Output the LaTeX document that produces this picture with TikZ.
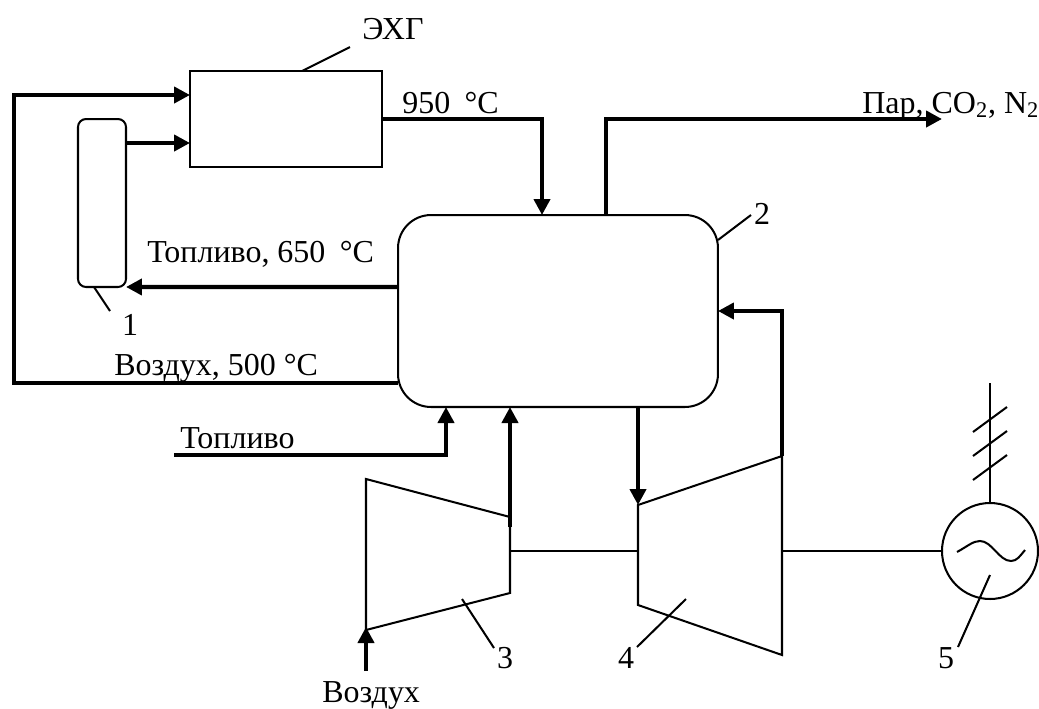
\documentclass[tikz,border=0pt]{standalone}
\usepackage{fontspec}
\setmainfont{Liberation Serif}
\usepackage{tikz}
\usetikzlibrary{arrows.meta,calc}
\tikzset{
  thinline/.style={line width=1.15pt},
  flow/.style={line width=2.4pt,-{Triangle[length=0.32cm,width=0.32cm]}},
  unitbox/.style={draw,line width=1.15pt,inner sep=0pt,outer sep=0pt},
  tag/.style={font=\fontsize{18.2}{18.2}\selectfont,inner sep=0pt},
  tagl/.style={tag,anchor=base west}
}
\begin{document}
\begin{tikzpicture}[x=0.02cm,y=-0.02cm]
      \useasboundingbox (0,0) rectangle (1039,708);
      % units
      \node[unitbox,minimum width=3.84cm,minimum height=1.92cm] (exg) at (286,119) {};
      \node[unitbox,rounded corners=0.16cm,minimum width=0.96cm,minimum height=3.36cm] (reformer) at (102,203) {};
      \node[unitbox,rounded corners=0.66cm,minimum width=6.4cm,minimum height=3.84cm] (comb) at (558,311) {};
      \node[unitbox,circle,minimum size=1.92cm] (gen) at (990,551) {};
      % compressor and turbine
      \coordinate (compA) at (366,479);
      \coordinate (compB) at (510,517);
      \coordinate (compC) at (510,593);
      \coordinate (compD) at (366,630);
      \coordinate (turbA) at (638,505);
      \coordinate (turbB) at (782,456);
      \coordinate (turbC) at (782,655);
      \coordinate (turbD) at (638,605);
      \draw[thinline] (compA)--(compB)--(compC)--(compD)--cycle;
      \draw[thinline] (turbA)--(turbB)--(turbC)--(turbD)--cycle;
      % shafts and grid connection
      \draw[thinline] (compB |- gen)--(turbA |- gen);
      \draw[thinline] (turbB |- gen)--(gen.west);
      \coordinate (grid) at (990,383);
      \draw[thinline] (gen.north)--(grid);
      \foreach \y in {407,431,455}
        \draw[thinline] (973,\y+25)--(1007,\y);
      \draw[thinline] (957,552) .. controls (968,546) and (973,541) .. (980,541)
        .. controls (992,541) and (999,561) .. (1011,561)
        .. controls (1017,561) and (1020,556) .. (1025,550);
      % flows
      \coordinate (leftT) at (14,95);
      \coordinate (leftB) at (14,383);
      \draw[flow] (comb.west |- leftB)--(leftB)--(leftT)--(exg.west |- leftT);
      \draw[flow] (reformer.east |- 0,143)--(exg.west |- 0,143);
      \draw[flow] (exg.east |- 0,119)--(542,119)--(542,215);
      \coordinate (outEnd) at (942,119);
      \draw[flow] (606,215)--(606,119)--(outEnd);
      \draw[flow] (comb.west |- 0,287)--(reformer.south east);
      \coordinate (fuelIn) at (174,455);
      \draw[flow] (fuelIn)--(446,455)--(446,407);
      \draw[flow] (510,527)--(510,407);
      \draw[flow] (638,407)--(turbA);
      \draw[flow] (turbB)--(782,311)--(comb.east |- 0,311);
      \coordinate (airIn) at (366,671);
      \draw[flow] (airIn)--(366,627);
      % texts
      \node[tag] (exgname) at (393,29) {ЭХГ};
      \node[tagl] (t950) at (402,113) {950\hspace{0.2em} °C};
      \node[tagl] (outname) at (862,113) {Пар, CO\textsubscript{2}, N\textsubscript{2}};
      \node[tagl] (fuelhot) at (147,262) {Топливо, 650\hspace{0.2em} °C};
      \node[tagl] (airhot) at (114,375) {Воздух, 500 °C};
      \node[tagl] (fuelname) at (180,448) {Топливо};
      \node[tagl] (airname) at (322,702) {Воздух};
      \node[tag] (n1) at (130,325) {1};
      \node[tag] (n2) at (762,214) {2};
      \node[tag] (n3) at (505,658) {3};
      \node[tag] (n4) at (626,658) {4};
      \node[tag] (n5) at (946,658) {5};
      % leaders
      \coordinate (lead0) at (350,47);
      \coordinate (lead1) at (110,311);
      \coordinate (lead2) at (751,215);
      \coordinate (lead3) at (494,648);
      \coordinate (lead4) at (637,647);
      \coordinate (lead5) at (958,647);
      \draw[thinline] (302,71)--(lead0);
      \draw[thinline] (94,287)--(lead1);
      \draw[thinline] (718,240)--(lead2);
      \draw[thinline] (462,599)--(lead3);
      \draw[thinline] (686,599)--(lead4);
      \draw[thinline] (990,575)--(lead5);
    \end{tikzpicture}
\end{document}
